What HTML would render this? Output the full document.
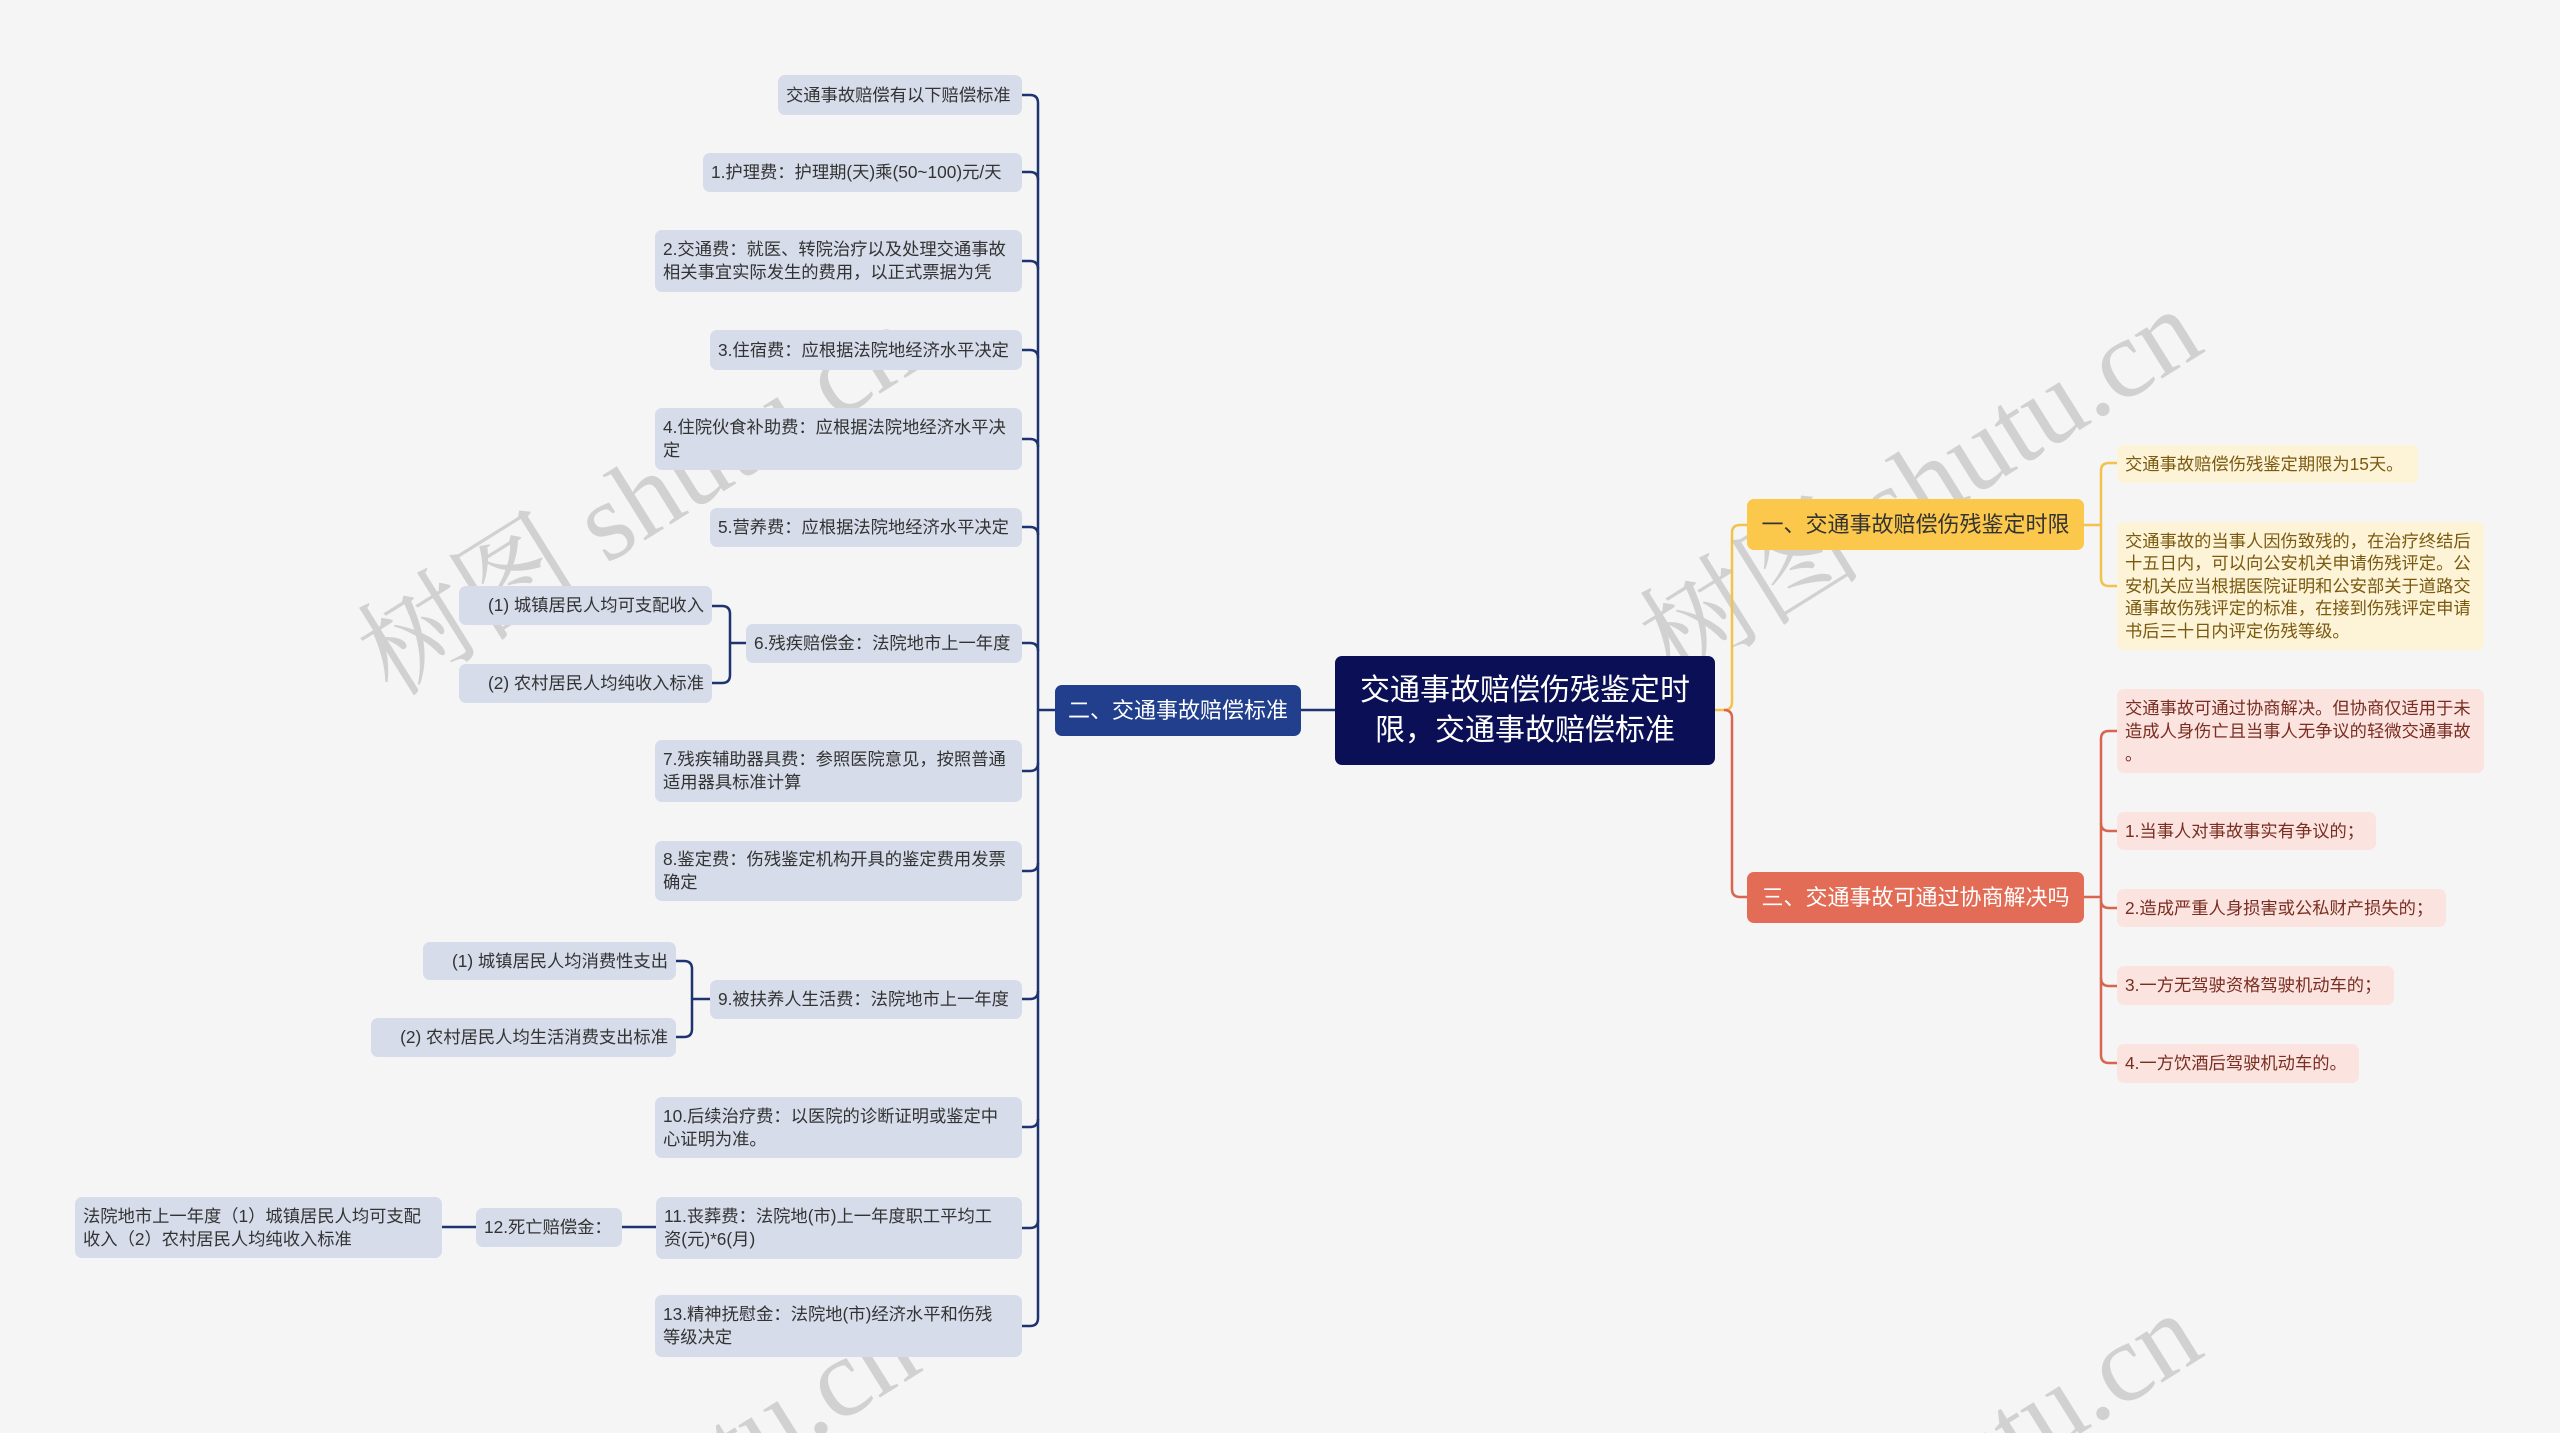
<!DOCTYPE html>
<html><head><meta charset="utf-8">
<style>
html,body{margin:0;padding:0;width:2560px;height:1433px;overflow:hidden;}
#wrap{position:relative;width:2560px;height:1433px;overflow:hidden;background:#f5f5f5;font-family:"Liberation Sans","Noto Sans CJK SC",sans-serif;}
.n{position:absolute;box-sizing:border-box;border-radius:7px;font-size:17.3px;line-height:23px;color:#333;padding:0 8px;display:flex;align-items:center;white-space:nowrap;}
.l{background:#d6dcea;}
.y{background:#fdf3d6;color:#7a5a10;}
.r{background:#fbe3df;color:#7a2e22;}
svg{position:absolute;left:0;top:0;}
</style></head><body><div id="wrap">
<svg width="2560" height="1433" viewBox="0 0 2560 1433" fill="none" stroke-width="2.5">
<g font-family="Liberation Serif, Noto Serif CJK SC, serif" font-size="112" fill="rgba(150,150,150,0.38)" stroke="none" text-anchor="middle" dominant-baseline="middle">
<text transform="translate(645 510) rotate(-32)">树图 shutu.cn</text>
<text transform="translate(1927 495) rotate(-32)">树图 shutu.cn</text>
<text transform="translate(645 1514) rotate(-32)">树图 shutu.cn</text>
<text transform="translate(1927 1499) rotate(-32)">树图 shutu.cn</text>
</g>
<g stroke="#1d3470">
<line x1="1038" y1="103" x2="1038" y2="1318"/>
<path d="M1022 95 h8 q8 0 8 8"/>
<path d="M1022 172 h8 q8 0 8 8"/>
<path d="M1022 261 h8 q8 0 8 8"/>
<path d="M1022 350 h8 q8 0 8 8"/>
<path d="M1022 439 h8 q8 0 8 8"/>
<path d="M1022 527 h8 q8 0 8 8"/>
<path d="M1022 643 h8 q8 0 8 8"/>
<path d="M1022 771 h8 q8 0 8 -8"/>
<path d="M1022 871 h8 q8 0 8 -8"/>
<path d="M1022 999 h8 q8 0 8 -8"/>
<path d="M1022 1127 h8 q8 0 8 -8"/>
<path d="M1022 1228 h8 q8 0 8 -8"/>
<path d="M1022 1326 h8 q8 0 8 -8"/>
<line x1="1038" y1="710" x2="1055" y2="710"/>
<line x1="1301" y1="710" x2="1336" y2="710"/>
<path d="M712 606 h10 q8 0 8 8 v61 q0 8 -8 8 h-10"/>
<line x1="730" y1="643" x2="746" y2="643"/>
<path d="M676 961 h8 q8 0 8 8 v60 q0 8 -8 8 h-8"/>
<line x1="692" y1="999" x2="710" y2="999"/>
<line x1="442" y1="1227" x2="476" y2="1227"/>
<line x1="622" y1="1227" x2="656" y2="1227"/>
</g>
<g stroke="#f3c24a">
<path d="M1714 710 h10 q8 0 8 -8 v-169 q0 -8 8 -8 h7"/>
<path d="M2084 525 h17"/>
<path d="M2117 463 h-8 q-8 0 -8 8 v107 q0 8 8 8 h8"/>
</g>
<g stroke="#d9644f">
<path d="M1724 710 q8 0 8 8 v171 q0 8 8 8 h7"/>
<path d="M2084 897 h17"/>
<path d="M2117 731 h-8 q-8 0 -8 8 v316 q0 8 8 8 h8"/>
<path d="M2101 823 q0 8 8 8 h8"/>
<path d="M2101 900 q0 8 8 8 h8"/>
<path d="M2101 978 q0 8 8 8 h8"/>
</g>
</svg>

<div class="n l" style="left:778px;top:75px;width:244px;height:40px;">交通事故赔偿有以下赔偿标准</div>
<div class="n l" style="left:703px;top:153px;width:319px;height:39px;">1.护理费：护理期(天)乘(50~100)元/天</div>
<div class="n l" style="left:655px;top:230px;width:367px;height:62px;">2.交通费：就医、转院治疗以及处理交通事故<br>相关事宜实际发生的费用，以正式票据为凭</div>
<div class="n l" style="left:710px;top:330px;width:312px;height:40px;">3.住宿费：应根据法院地经济水平决定</div>
<div class="n l" style="left:655px;top:408px;width:367px;height:62px;">4.住院伙食补助费：应根据法院地经济水平决<br>定</div>
<div class="n l" style="left:710px;top:508px;width:312px;height:39px;">5.营养费：应根据法院地经济水平决定</div>
<div class="n l" style="left:746px;top:624px;width:276px;height:39px;">6.残疾赔偿金：法院地市上一年度</div>
<div class="n l" style="left:459px;top:586px;width:253px;height:39px;justify-content:flex-end;">(1) 城镇居民人均可支配收入</div>
<div class="n l" style="left:459px;top:664px;width:253px;height:39px;justify-content:flex-end;">(2) 农村居民人均纯收入标准</div>
<div class="n l" style="left:655px;top:740px;width:367px;height:62px;">7.残疾辅助器具费：参照医院意见，按照普通<br>适用器具标准计算</div>
<div class="n l" style="left:655px;top:841px;width:367px;height:60px;">8.鉴定费：伤残鉴定机构开具的鉴定费用发票<br>确定</div>
<div class="n l" style="left:710px;top:980px;width:312px;height:39px;">9.被扶养人生活费：法院地市上一年度</div>
<div class="n l" style="left:423px;top:942px;width:253px;height:38px;justify-content:flex-end;">(1) 城镇居民人均消费性支出</div>
<div class="n l" style="left:371px;top:1018px;width:305px;height:39px;justify-content:flex-end;">(2) 农村居民人均生活消费支出标准</div>
<div class="n l" style="left:655px;top:1097px;width:367px;height:61px;">10.后续治疗费：以医院的诊断证明或鉴定中<br>心证明为准。</div>
<div class="n l" style="left:656px;top:1197px;width:366px;height:62px;">11.丧葬费：法院地(市)上一年度职工平均工<br>资(元)*6(月)</div>
<div class="n l" style="left:476px;top:1208px;width:146px;height:39px;">12.死亡赔偿金：</div>
<div class="n l" style="left:75px;top:1197px;width:367px;height:61px;">法院地市上一年度（1）城镇居民人均可支配<br>收入（2）农村居民人均纯收入标准</div>
<div class="n l" style="left:655px;top:1295px;width:367px;height:62px;">13.精神抚慰金：法院地(市)经济水平和伤残<br>等级决定</div>

<div class="n" style="left:1335px;top:656px;width:380px;height:109px;background:#0b1056;color:#fff;font-size:30px;line-height:40px;justify-content:center;text-align:center;">交通事故赔偿伤残鉴定时<br>限，交通事故赔偿标准</div>
<div class="n" style="left:1055px;top:685px;width:246px;height:51px;background:#213f8c;color:#fff;font-size:22px;justify-content:center;">二、交通事故赔偿标准</div>

<div class="n" style="left:1747px;top:499px;width:337px;height:51px;background:#fbc84c;color:#333;font-size:22px;justify-content:center;">一、交通事故赔偿伤残鉴定时限</div>
<div class="n" style="left:1747px;top:872px;width:337px;height:51px;background:#e36c56;color:#fff;font-size:22px;justify-content:center;">三、交通事故可通过协商解决吗</div>

<div class="n y" style="left:2117px;top:445px;width:301px;height:38px;">交通事故赔偿伤残鉴定期限为15天。</div>
<div class="n y" style="left:2117px;top:522px;width:367px;height:128px;line-height:22.5px;">交通事故的当事人因伤致残的，在治疗终结后<br>十五日内，可以向公安机关申请伤残评定。公<br>安机关应当根据医院证明和公安部关于道路交<br>通事故伤残评定的标准，在接到伤残评定申请<br>书后三十日内评定伤残等级。</div>

<div class="n r" style="left:2117px;top:689px;width:367px;height:84px;line-height:23px;">交通事故可通过协商解决。但协商仅适用于未<br>造成人身伤亡且当事人无争议的轻微交通事故<br>。</div>
<div class="n r" style="left:2117px;top:812px;width:259px;height:38px;">1.当事人对事故事实有争议的；</div>
<div class="n r" style="left:2117px;top:889px;width:329px;height:38px;">2.造成严重人身损害或公私财产损失的；</div>
<div class="n r" style="left:2117px;top:966px;width:277px;height:39px;">3.一方无驾驶资格驾驶机动车的；</div>
<div class="n r" style="left:2117px;top:1044px;width:242px;height:39px;">4.一方饮酒后驾驶机动车的。</div>
</div></body></html>
